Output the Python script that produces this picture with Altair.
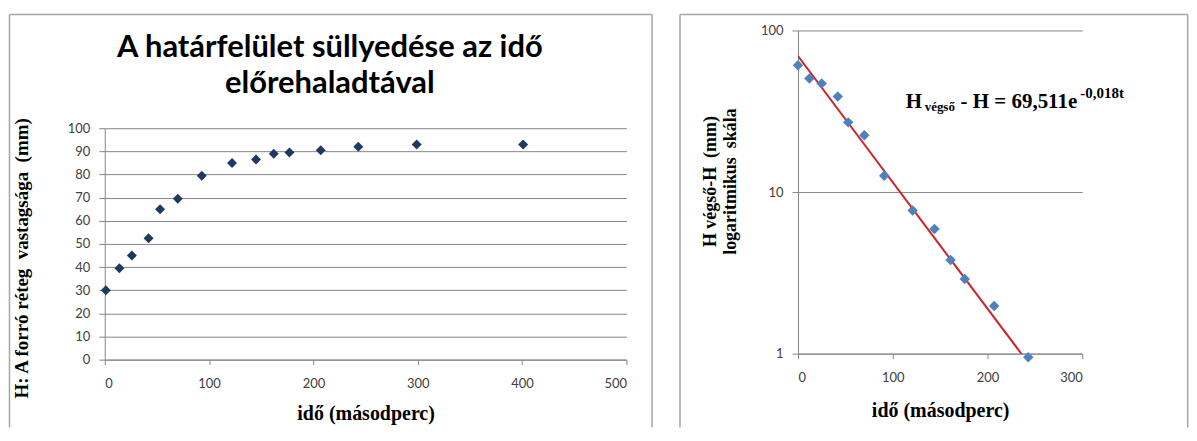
import altair as alt

# ---- data ----
left_t = [1, 14, 26, 42, 53, 70, 93, 122, 145, 162, 177, 207, 243, 299, 401]
left_H = [30, 39.5, 45, 52.5, 65, 69.5, 79.5, 85, 86.5, 89, 89.5, 90.5, 92, 93, 93]

right_t = [0, 12, 25, 42, 53, 70, 91, 121, 144, 161, 176, 207, 243]
right_dH = [61, 50.5, 47, 39, 27, 22.5, 12.6, 7.7, 5.9, 3.8, 2.9, 1.97, 0.95]

fit_a = 69.511
fit_b = -0.018
line_t = [0, 243]

left_xticks = [0, 100, 200, 300, 400, 500]
left_yticks = [0, 10, 20, 30, 40, 50, 60, 70, 80, 90, 100]
right_xticks = [0, 100, 200, 300]
right_yticks = [1, 10, 100]

title_lines = ["A határfelület süllyedése az idő", "előrehaladtával"]
x_title = "idő (másodperc)"
left_y_title = "H: A forró réteg\u00a0 vastagsága\u00a0 (mm)"
right_y_title = ["H végső-H\u00a0 (mm)", "logaritmikus\u00a0 skála"]

GRAY = "#868686"
FRAME = "#a6a6a6"
LABEL = "#404040"
SERIF = "Liberation Serif"
SANS = "Lato"

one = alt.Data(values=[{"k": 0}])


def frame(x1, x2, y1, y2):
    common = dict(color=FRAME, strokeWidth=1.5)
    left = alt.Chart(one).mark_rule(**common).encode(
        x=alt.value(x1), y=alt.value(y1), y2=alt.value(y2))
    right = alt.Chart(one).mark_rule(**common).encode(
        x=alt.value(x2), y=alt.value(y1), y2=alt.value(y2))
    top = alt.Chart(one).mark_rule(**common).encode(
        x=alt.value(x1), x2=alt.value(x2), y=alt.value(y1))
    return [left, right, top]


def text(x, y, s, size, weight="bold", font=SERIF, align="left", baseline="alphabetic"):
    return alt.Chart(one).mark_text(
        font=font, fontSize=size, fontWeight=weight, color="black",
        align=align, baseline=baseline
    ).encode(x=alt.value(x), y=alt.value(y), text=alt.value(s))


# ---------------- left chart ----------------
# the view starts at the same height as the right chart; the data area is its lower part
LW, LH = 523, 330
LTOP = 98
left_data = alt.Data(values=[{"t": t, "H": h} for t, h in zip(left_t, left_H)])

left_points = alt.Chart(left_data).mark_point(
    shape="diamond", filled=True, size=100, color="#1f3a60", opacity=1
).encode(
    x=alt.X("t:Q", scale=alt.Scale(domain=[0, 500], nice=False),
            axis=alt.Axis(values=left_xticks, grid=False, title=x_title,
                          domainColor=GRAY, tickColor=GRAY, tickSize=5,
                          labelFont=SANS, labelFontSize=13, labelColor=LABEL,
                          labelPadding=13, titleFont=SERIF, titleFontSize=20,
                          titleFontWeight="bold", titleColor="black",
                          titlePadding=13)),
    y=alt.Y("H:Q", scale=alt.Scale(domain=[0, 100], nice=False, range=[LH, LTOP]),
            axis=alt.Axis(values=left_yticks, grid=True, gridColor=GRAY,
                          title=left_y_title, domainColor=GRAY, tickColor=GRAY,
                          tickSize=6, labelFont=SANS, labelFontSize=13,
                          labelColor=LABEL, labelPadding=9, titleFont=SERIF,
                          titleFontSize=19, titleFontWeight="bold",
                          titleColor="black", titleX=-83, titleY=130 + LTOP,
                          titleBaseline="middle")),
)

left_title = [
    text(225.7, 18, title_lines[0], 31, font=SANS, align="center", baseline="middle"),
    text(225.7, 54, title_lines[1], 31, font=SANS, align="center", baseline="middle"),
]

left = alt.layer(*frame(-95.5, 548.7, -16, 398), *left_title, left_points).properties(
    width=LW, height=LH)

# ---------------- right chart ----------------
RW, RH = 285, 324
right_data = alt.Data(values=[{"t": t, "d": d} for t, d in zip(right_t, right_dH)])
line_data = alt.Data(values=[{"t": t} for t in line_t])

xr = alt.X("t:Q", scale=alt.Scale(domain=[0, 300], nice=False),
           axis=alt.Axis(values=right_xticks, grid=False, title=x_title,
                         domainColor=GRAY, tickColor=GRAY, tickSize=5,
                         labelFont=SANS, labelFontSize=13, labelColor=LABEL,
                         labelPadding=13, titleFont=SERIF, titleFontSize=20,
                         titleFontWeight="bold", titleColor="black",
                         titlePadding=16))
yr_scale = alt.Scale(type="log", domain=[1, 100], nice=False)

right_points = alt.Chart(right_data).mark_point(
    shape="diamond", filled=True, size=110, color="#4f81bd", opacity=1
).encode(
    x=xr,
    y=alt.Y("d:Q", scale=yr_scale,
            axis=alt.Axis(values=right_yticks, format="d", grid=True,
                          gridColor=GRAY, title=right_y_title,
                          domainColor=GRAY, tickColor=GRAY, tickSize=6,
                          labelFont=SANS, labelFontSize=13, labelColor=LABEL,
                          labelPadding=9, titleFont=SERIF, titleFontSize=18,
                          titleFontWeight="bold", titleColor="black",
                          titleX=-88, titleY=151, titleBaseline="middle",
                          titleLineHeight=20)),
)

right_line = alt.Chart(line_data).mark_line(
    color="#cc2229", strokeWidth=2, clip=True
).transform_calculate(
    fit=f"{fit_a} * exp({fit_b} * datum.t)"
).encode(x="t:Q", y=alt.Y("fit:Q", scale=yr_scale))

eq = [
    text(108, 77.7, "H", 21),
    text(127, 81, "végső", 13),
    text(163, 77.7, "- H = 69,511e", 21),
    text(283, 68, "-0,018t", 15),
]

right = alt.layer(*frame(-118.3, 390.7, -16, 398), right_line, right_points, *eq).properties(
    width=RW, height=RH)

chart = alt.hconcat(left, right, spacing=25).properties(
    padding={"left": 0, "top": 5, "right": 0, "bottom": 0},
    background="white",
).configure_view(strokeWidth=0)

chart.save("out.html", embed_options={"renderer": "svg", "actions": False})
